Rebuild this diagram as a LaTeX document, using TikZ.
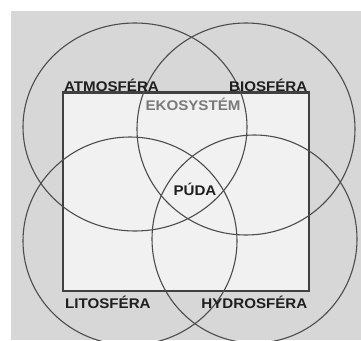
\documentclass[tikz,border=0pt]{standalone}
\usepackage{fontspec}
\setmainfont{Liberation Sans}
\definecolor{bggray}{HTML}{D7D7D7}
\definecolor{boxfill}{HTML}{F1F1F1}
\definecolor{boxline}{HTML}{404040}
\definecolor{ringline}{HTML}{4C4C4C}
\definecolor{labeltext}{HTML}{1E1E1E}
\definecolor{ekotext}{HTML}{7A7A7A}
\begin{document}
\begin{tikzpicture}[x=1pt,y=-1pt,
  ring/.style={draw=ringline,line width=1.1pt},
  sphere/.style={font=\fontsize{14}{14}\selectfont\bfseries,text=labeltext,inner sep=0pt},
  eko/.style={font=\fontsize{14}{14}\selectfont\bfseries,text=ekotext,inner sep=0pt}]
\useasboundingbox (0,0) rectangle (361,340);
\fill[white] (0,0) rectangle (361,340);
\fill[bggray] (11,11) rectangle (361,340);
% central box
\draw[boxline,fill=boxfill,line width=2.4pt] (63,92.5) rectangle (309,291);
% four spheres
\draw[ring] (135,127) ellipse [x radius=112pt, y radius=104pt];
\draw[ring] (246,129) ellipse [x radius=109pt, y radius=106pt];
\draw[ring] (130,241) ellipse [x radius=107pt, y radius=104pt];
\draw[ring] (254.5,239) ellipse [x radius=102.5pt, y radius=104pt];
% labels
\node[sphere,anchor=base west] (atm) at (64,91.3) {\scalebox{1.08}[1]{ATMOSFÉRA}};
\node[sphere,anchor=base east] (bio) at (307.5,91.3) {\scalebox{1.08}[1]{BIOSFÉRA}};
\node[eko,anchor=base] (eko) at (193,110.5) {\scalebox{1.08}[1]{EKOSYSTÉM}};
\node[sphere,anchor=base] (puda) at (195,195.5) {\scalebox{1.08}[1]{PÚDA}};
\node[sphere,anchor=base west] (lito) at (65,308.5) {\scalebox{1.08}[1]{LITOSFÉRA}};
\node[sphere,anchor=base east] (hydro) at (307.5,308.5) {\scalebox{1.08}[1]{HYDROSFÉRA}};
\end{tikzpicture}
\end{document}
